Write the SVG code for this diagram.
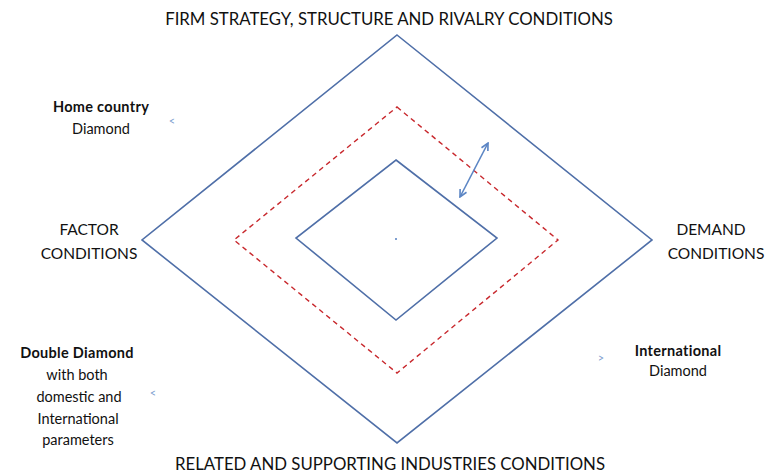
<svg xmlns="http://www.w3.org/2000/svg" width="767" height="475" viewBox="0 0 767 475">
<defs>
<style>
text{font-family:Lato,"Open Sans",sans-serif;fill:#111;}
.h{font-size:16.8px;}
.f{font-size:15.5px;}
.s{font-size:14.5px;}
.b{font-weight:bold;letter-spacing:0.3px;}
.blue{fill:none;stroke:#4f6fa8;stroke-width:1.6;}
.red{fill:none;stroke:#c8282d;stroke-width:1.4;stroke-dasharray:5,4;}
.mk{font-size:11px;fill:#7f9fd0;}
</style>
<marker id="ah" viewBox="0 0 10 10" refX="9" refY="5" markerWidth="9" markerHeight="9" orient="auto-start-reverse" markerUnits="userSpaceOnUse">
<path d="M1,1 L9,5 L1,9" fill="none" stroke="#5b85c4" stroke-width="1.8"/>
</marker>
</defs>
<rect width="767" height="475" fill="#fff"/>
<g id="outer"><polygon class="blue" points="397,35 652,240 397,443 142,240"/></g>
<g id="middle"><polygon class="red" points="397,107 558,240 397,373 234,240"/></g>
<g id="inner"><polygon class="blue" points="396,160 497,238 396,320 296,238"/><rect x="395" y="238" width="2" height="2" fill="#7f9fd0"/></g>
<g id="connectors">
<line x1="460" y1="197" x2="488" y2="143" stroke="#5b85c4" stroke-width="1.6" marker-start="url(#ah)" marker-end="url(#ah)"/>
</g>
<g id="top"><text class="h" x="389" y="25" text-anchor="middle">FIRM STRATEGY, STRUCTURE AND RIVALRY CONDITIONS</text></g>
<g id="bottom"><text class="h" x="390" y="470" text-anchor="middle">RELATED AND SUPPORTING INDUSTRIES CONDITIONS</text></g>
<g id="factor"><text class="f" x="89" y="235" text-anchor="middle">FACTOR</text><text class="f" x="89" y="259" text-anchor="middle">CONDITIONS</text></g>
<g id="demand"><text class="f" x="711" y="235" text-anchor="middle">DEMAND</text><text class="f" x="716" y="259" text-anchor="middle">CONDITIONS</text></g>
<g id="home"><text class="s b" x="101" y="112" text-anchor="middle">Home country</text><text class="s" x="101" y="134" text-anchor="middle">Diamond</text><text class="mk" x="172" y="125" text-anchor="middle">&lt;</text></g>
<g id="double"><text class="s b" x="77" y="358" text-anchor="middle">Double Diamond</text><text class="s" x="77" y="380" text-anchor="middle">with both</text><text class="s" x="79" y="402" text-anchor="middle">domestic and</text><text class="s" x="78" y="424" text-anchor="middle">International</text><text class="s" x="78" y="445" text-anchor="middle">parameters</text><text class="mk" x="153" y="397" text-anchor="middle">&lt;</text></g>
<g id="intl"><text class="s b" x="678" y="356" text-anchor="middle">International</text><text class="s" x="678" y="376" text-anchor="middle">Diamond</text><text class="mk" x="601" y="362" text-anchor="middle">&gt;</text></g>
</svg>
